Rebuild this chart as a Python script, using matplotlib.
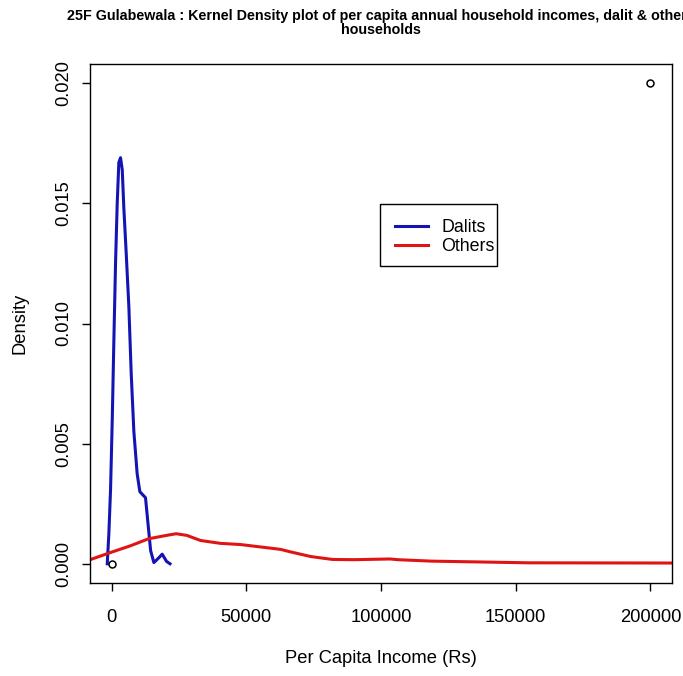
import matplotlib
matplotlib.use("Agg")
import matplotlib.pyplot as plt
from matplotlib.patches import Rectangle

plt.rcParams["font.family"] = ["Liberation Sans", "DejaVu Sans"]

# Kernel density estimate, dalit households
dalit_x = [-1600, -1000, -370, 260, 860, 1500, 2100, 2700, 3340, 3970, 4560,
           5450, 6420, 7300, 8280, 9500, 10500, 12600, 13500, 14500, 15700,
           17550, 18800, 20400, 21700]
dalit_y = [0.0, 0.00125, 0.0031, 0.006, 0.0093, 0.0126, 0.015, 0.0167,
           0.0169, 0.0164, 0.0148, 0.0129, 0.0107, 0.0079, 0.0055, 0.00375,
           0.003, 0.00275, 0.0017, 0.00055, 0.00005, 0.00025, 0.0004,
           0.0001, 0.0]

# Kernel density estimate, other households
others_x = [-9000, -370, 7050, 13700, 21300, 24000, 28000, 33000, 40400,
            47900, 55300, 62700, 66600, 74000, 82000, 90000, 103400, 106300,
            118800, 154900, 215000]
others_y = [0.00013, 0.00047, 0.00075, 0.00104, 0.0012, 0.00125, 0.00118,
            0.00097, 0.00085, 0.0008, 0.0007, 0.0006, 0.00049, 0.0003,
            0.00018, 0.00017, 0.0002, 0.00017, 0.00011, 0.00004, 0.00003]

# Frame points that set the plot range
frame_x = [0, 200000]
frame_y = [0, 0.02]

x_ticks = [0, 50000, 100000, 150000, 200000]
y_ticks = [0.0, 0.005, 0.010, 0.015, 0.020]

blue = "#1414B4"
red = "#E01414"
fs = 13.2

fig = plt.figure(figsize=(6.83, 6.76), dpi=100)
ax = fig.add_axes([90 / 683, 1 - 583 / 676, 582 / 683, 519 / 676])

ax.plot(frame_x, frame_y, "o", mfc="none", mec="black", ms=5, mew=1.1,
        zorder=3)
ax.plot(dalit_x, dalit_y, color=blue, lw=2.2, label="Dalits")
ax.plot(others_x, others_y, color=red, lw=2.2, label="Others")

ax.set_xlim(-8000, 208000)
ax.set_ylim(-0.0008, 0.0208)
ax.set_xticks(x_ticks)
ax.set_xticklabels([str(v) for v in x_ticks])
ax.set_yticks(y_ticks)
ax.set_yticklabels(["%.3f" % v for v in y_ticks], rotation=90, va="center")
ax.tick_params(direction="out", length=6, width=1, labelsize=fs)
ax.tick_params(axis="x", pad=13)
ax.tick_params(axis="y", pad=7)
for s in ax.spines.values():
    s.set_linewidth(1)

ax.set_xlabel("Per Capita Income (Rs)", fontsize=fs, labelpad=17)
ax.set_ylabel("Density", fontsize=fs, labelpad=19)

# legend with an R-style tight box drawn separately
leg = ax.legend(loc="upper left", bbox_to_anchor=(0.524, 0.701),
                borderaxespad=0, borderpad=0, fontsize=12.8, frameon=False,
                handlelength=1.85, handletextpad=0.75, labelspacing=0.13)
ax.add_patch(Rectangle((0.4983, 0.6108), 0.2010, 0.1195,
                       transform=ax.transAxes, fill=False, edgecolor="black",
                       lw=1, zorder=4))

fig.text(381 / 683, 1 - 23 / 676,
         "25F Gulabewala : Kernel Density plot of per capita annual "
         "household incomes, dalit & others\nhouseholds",
         ha="center", va="center", fontsize=10.3, fontweight="bold",
         linespacing=1.05)

fig.savefig("out.png", dpi=100)
